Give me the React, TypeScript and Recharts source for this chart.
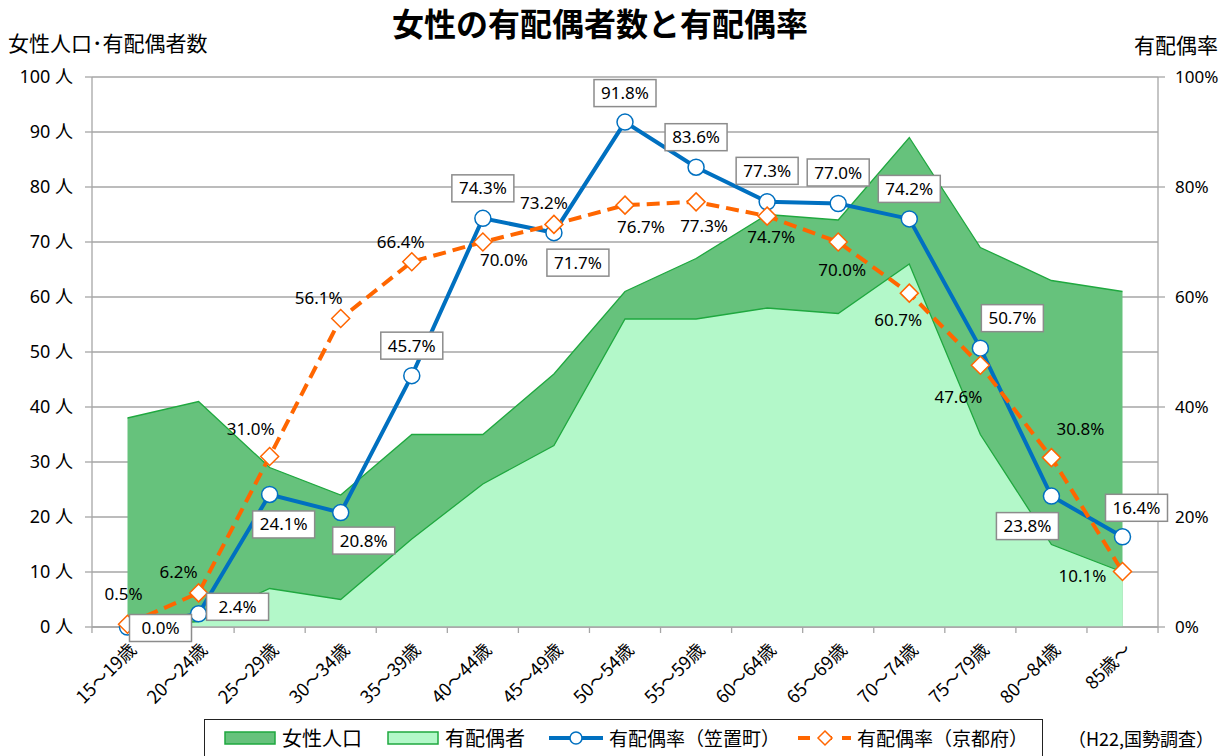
import {
  Area,
  CartesianGrid,
  ComposedChart,
  LabelList,
  Line,
  XAxis,
  YAxis,
} from "recharts";

const ages = [
  "15～19歳", "20～24歳", "25～29歳", "30～34歳", "35～39歳",
  "40～44歳", "45～49歳", "50～54歳", "55～59歳", "60～64歳",
  "65～69歳", "70～74歳", "75～79歳", "80～84歳", "85歳～",
];
const women = [38, 41, 29, 24, 35, 35, 46, 61, 67, 75, 74, 89, 69, 63, 61];
const married = [0, 1, 7, 5, 16, 26, 33, 56, 56, 58, 57, 66, 35, 15, 10];
const kasagiRate = [0.0, 2.4, 24.1, 20.8, 45.7, 74.3, 71.7, 91.8, 83.6, 77.3, 77.0, 74.2, 50.7, 23.8, 16.4];
const kyotoRate = [0.5, 6.2, 31.0, 56.1, 66.4, 70.0, 73.2, 76.7, 77.3, 74.7, 70.0, 60.7, 47.6, 30.8, 10.1];

const leftTicks = [0, 10, 20, 30, 40, 50, 60, 70, 80, 90, 100];
const rightTicks = [0, 20, 40, 60, 80, 100];

const data = ages.map((age, i) => ({
  age,
  women: women[i],
  married: married[i],
  kasagi: kasagiRate[i],
  kyoto: kyotoRate[i],
}));

// label centre offsets from each point (px)
const kasagiOffsets = [
  [33, 1], [39, -7], [14, 30], [23, 28], [0, -30], [0, -30], [24, 30], [0, -29],
  [0, -30], [0, -31], [0, -31], [0, -30], [32, -30], [-24, 30], [14, -29],
];
const kyotoOffsets = [
  [-4, -30], [-20, -21], [-19, -28], [-22, -20], [-11, -20], [21, 18], [-10, -21], [16, 22],
  [8, 24], [4, 21], [4, 28], [-11, 27], [-22, 32], [29, -29], [-40, 5],
];

const BLUE = "#0070c0";
const ORANGE = "#ff6600";
const DARK = "#66c27c";
const LIGHT = "#b3f8c9";
const EDGE = "#1fa83f";
const GRID = "#a6a6a6";
const JP = '"Noto Sans CJK JP", "Noto Sans", sans-serif';
const NUM = '"Noto Sans", "Noto Sans CJK JP", sans-serif';

function AgeTick(props: any) {
  const { x, y, payload, index, width, visibleTicksCount } = props;
  const band = width && visibleTicksCount ? width / visibleTicksCount : 71;
  const last = index === (visibleTicksCount ?? 15) - 1;
  const tx = x + 10;
  const ty = y + 24;
  return (
    <g>
      <line x1={x - band / 2} x2={x - band / 2} y1={y} y2={y + 6} stroke={GRID} strokeWidth={1.3} />
      {last && <line x1={x + band / 2} x2={x + band / 2} y1={y} y2={y + 6} stroke={GRID} strokeWidth={1.3} />}
      <text
        x={tx}
        y={ty}
        textAnchor="end"
        transform={`rotate(-45 ${tx} ${ty})`}
        fontSize={18}
        fontFamily={JP}
        fill="#000"
      >
        {payload.value}
      </text>
    </g>
  );
}

function CircleDot(p: any) {
  return <circle key={`c${p.index}`} cx={p.cx} cy={p.cy} r={8} fill="#fff" stroke={BLUE} strokeWidth={1.5} />;
}

function DiamondDot(p: any) {
  const s = 9;
  return (
    <polygon
      key={`d${p.index}`}
      points={`${p.cx},${p.cy - s} ${p.cx + s},${p.cy} ${p.cx},${p.cy + s} ${p.cx - s},${p.cy}`}
      fill="#fff"
      stroke={ORANGE}
      strokeWidth={1.5}
    />
  );
}

function BoxLabel(p: any) {
  const [dx, dy] = kasagiOffsets[p.index] ?? [0, -30];
  const cx = p.x + dx;
  const cy = p.y + dy;
  return (
    <g>
      <rect x={cx - 31} y={cy - 13.5} width={62} height={27} fill="#fff" stroke="#8c8c8c" strokeWidth={1.5} />
      <text x={cx} y={cy + 6} textAnchor="middle" fontSize={17} fontFamily={NUM} fill="#000">
        {`${Number(p.value).toFixed(1)}%`}
      </text>
    </g>
  );
}

function PlainLabel(p: any) {
  const [dx, dy] = kyotoOffsets[p.index] ?? [0, -25];
  return (
    <text x={p.x + dx} y={p.y + dy + 6} textAnchor="middle" fontSize={17} fontFamily={NUM} fill="#000">
      {`${Number(p.value).toFixed(1)}%`}
    </text>
  );
}

const abs = (left: number, top: number, extra: any = {}) => ({
  position: "absolute" as const,
  left,
  top,
  lineHeight: 1,
  whiteSpace: "nowrap" as const,
  fontFamily: JP,
  color: "#000",
  ...extra,
});

export default function App() {
  return (
    <div style={{ position: "absolute", left: 0, top: 0, width: 1228, height: 756, overflow: "hidden", background: "#fff" }}>
      <ComposedChart width={1228} height={756} data={data} margin={{ top: 77, right: 10, bottom: 29, left: 12 }}>
        <CartesianGrid yAxisId="left" vertical={false} stroke={GRID} strokeWidth={1.3} />
        <XAxis
          dataKey="age"
          height={100}
          padding={{ left: 35.5, right: 35.5 }}
          tickLine={false}
          tickSize={0}
          tickMargin={0}
          interval={0}
          tick={<AgeTick />}
          stroke={GRID}
          strokeWidth={1.3}
        />
        <YAxis
          yAxisId="left"
          width={80}
          domain={[0, 100]}
          ticks={leftTicks}
          tickFormatter={(v) => `${v} 人`}
          tickSize={7}
          tickMargin={12}
          stroke={GRID}
          strokeWidth={1.3}
          tick={{ fill: "#000", fontSize: 18, fontFamily: NUM }}
        />
        <YAxis
          yAxisId="right"
          orientation="right"
          width={60}
          domain={[0, 100]}
          ticks={rightTicks}
          tickFormatter={(v) => `${v}%`}
          tickSize={7}
          tickMargin={10}
          stroke={GRID}
          strokeWidth={1.3}
          tick={{ fill: "#000", fontSize: 17, fontFamily: NUM }}
        />
        <Area yAxisId="left" type="linear" dataKey="women" fill={DARK} fillOpacity={1} stroke={EDGE} strokeWidth={1.3} dot={false} activeDot={false} isAnimationActive={false} />
        <Area yAxisId="left" type="linear" dataKey="married" fill={LIGHT} fillOpacity={1} stroke={EDGE} strokeWidth={1.3} dot={false} activeDot={false} isAnimationActive={false} />
        <Line yAxisId="right" type="linear" dataKey="kasagi" stroke={BLUE} strokeWidth={4} dot={CircleDot} activeDot={false} isAnimationActive={false}>
          <LabelList dataKey="kasagi" content={BoxLabel} />
        </Line>
        <Line yAxisId="right" type="linear" dataKey="kyoto" stroke={ORANGE} strokeWidth={4} strokeDasharray="13 7" dot={DiamondDot} activeDot={false} isAnimationActive={false}>
          <LabelList dataKey="kyoto" content={PlainLabel} />
        </Line>
      </ComposedChart>

      <div style={abs(600, 6, { transform: "translateX(-50%)", fontSize: 32, fontWeight: 700 })}>
        女性の有配偶者数と有配偶率
      </div>
      <div style={abs(8, 32, { fontSize: 21 })}>女性人口･有配偶者数</div>
      <div style={abs(1134, 34, { fontSize: 21 })}>有配偶率</div>

      <div style={abs(204, 719, { width: 837, height: 50, border: "1.5px solid #222" })} />
      <svg style={{ position: "absolute", left: 0, top: 0 }} width={1228} height={756} pointerEvents="none">
        <rect x={225} y={732} width={50} height={12} fill={DARK} stroke={EDGE} strokeWidth={1.5} />
        <rect x={388} y={732} width={50} height={12} fill={LIGHT} stroke={EDGE} strokeWidth={1.5} />
        <line x1={549} x2={603} y1={738} y2={738} stroke={BLUE} strokeWidth={4} />
        <circle cx={576} cy={738} r={6} fill="#fff" stroke={BLUE} strokeWidth={1.5} />
        <line x1={798} x2={851} y1={738} y2={738} stroke={ORANGE} strokeWidth={4} strokeDasharray="12 10" />
        <polygon points="825,731 832,738 825,745 818,738" fill="#fff" stroke={ORANGE} strokeWidth={1.5} />
      </svg>
      <div style={abs(282, 728, { fontSize: 20 })}>女性人口</div>
      <div style={abs(445, 728, { fontSize: 20 })}>有配偶者</div>
      <div style={abs(609, 728, { fontSize: 19 })}>有配偶率（笠置町）</div>
      <div style={abs(857, 728, { fontSize: 19 })}>有配偶率（京都府）</div>
      <div style={abs(1068, 729, { fontSize: 18 })}>（H22,国勢調査）</div>
    </div>
  );
}
